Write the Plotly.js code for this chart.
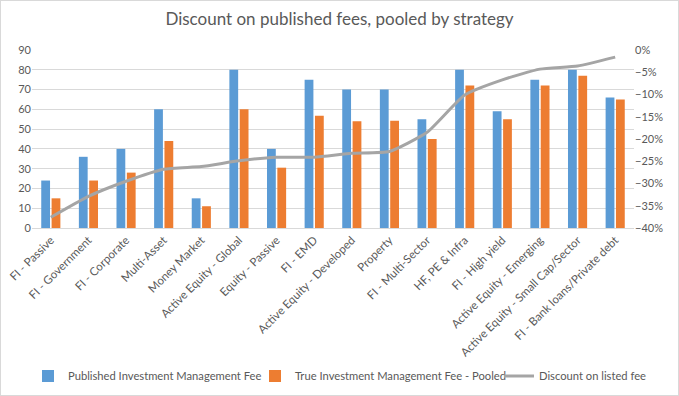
<!DOCTYPE html>
<html><head><meta charset="utf-8">
<script src="https://cdn.plot.ly/plotly-3.0.1.min.js"></script>
<style>html,body{margin:0;padding:0;background:#fff}#wrap{width:679px;height:396px;box-sizing:border-box;border:1px solid #d9d9d9}#chart{width:677px;height:394px}</style>
</head><body><div id="wrap"><div id="chart"></div></div>
<script>
const categories = ["FI - Passive","FI - Government","FI - Corporate","Multi-Asset","Money Market","Active Equity - Global","Equity - Passive","FI - EMD","Active Equity - Developed","Property","FI - Multi-Sector","HF, PE & Infra","FI - High yield","Active Equity - Emerging","Active Equity - Small Cap/Sector","FI - Bank loans/Private debt"];
const publishedFee = [24,36,40,60,15,80,40,75,70,70,55,80,59,75,80,66];
const trueFeePooled = [15,24,28,44,11,60,30.5,56.7,54,54.2,45,72,55,72,77,65];
const discount = [-0.376,-0.329,-0.295,-0.268,-0.262,-0.249,-0.241,-0.241,-0.232,-0.228,-0.185,-0.101,-0.067,-0.043,-0.036,-0.016];
const leftTicks = [0,10,20,30,40,50,60,70,80,90];
const rightTicks = [0,-0.05,-0.10,-0.15,-0.20,-0.25,-0.30,-0.35,-0.40];

const font = "Lato, 'Open Sans', sans-serif";
const grey = "#595959";
const traces = [
  {type:"bar", name:"Published Investment Management Fee", x:categories, y:publishedFee, marker:{color:"#5b9bd5"}, hoverinfo:"skip", legend:"legend"},
  {type:"bar", name:"True Investment Management Fee - Pooled", x:categories, y:trueFeePooled, marker:{color:"#ed7d31"}, hoverinfo:"skip", legend:"legend2"},
  {type:"scatter", mode:"lines", name:"Discount on listed fee", x:categories, y:discount, yaxis:"y2", line:{color:"#a5a5a5", width:3, shape:"spline", smoothing:0.5}, hoverinfo:"skip", legend:"legend3"}
];
function leg(x){
  return {orientation:"h", xref:"container", yref:"container", x:x, xanchor:"left", y:0.048, yanchor:"middle", font:{size:11.2, color:grey}, itemwidth:30, bgcolor:"rgba(0,0,0,0)", borderwidth:0};
}
const layout = {
  width:677, height:394,
  margin:{l:31, r:44, t:49, b:167},
  paper_bgcolor:"rgba(0,0,0,0)", plot_bgcolor:"rgba(0,0,0,0)",
  font:{family:font, color:grey, size:11},
  title:{text:"Discount on published fees, pooled by strategy", font:{family:font, size:17, color:grey}, x:0.5, xanchor:"center", y:0.955, yanchor:"middle"},
  barmode:"group", bargap:0.45, bargroupgap:0.15,
  showlegend:true,
  legend:leg(27/677), legend2:leg(254/677), legend3:leg(498/677),
  xaxis:{tickangle:-45, tickfont:{size:11.5, color:grey}, showgrid:false, showline:true, linecolor:"#d9d9d9", ticks:"", automargin:false},
  yaxis:{range:[0,90], tickvals:leftTicks, tickfont:{size:11, color:grey}, showgrid:true, gridcolor:"#d9d9d9", zeroline:false, showline:false, ticks:"", automargin:false},
  yaxis2:{range:[-0.40,0], overlaying:"y", side:"right", tickvals:rightTicks, tickformat:".0%", tickfont:{size:11, color:grey}, showgrid:false, zeroline:false, showline:false, ticks:"", automargin:false}
};
Plotly.newPlot("chart", traces, layout, {displayModeBar:false, staticPlot:true});
</script></body></html>
